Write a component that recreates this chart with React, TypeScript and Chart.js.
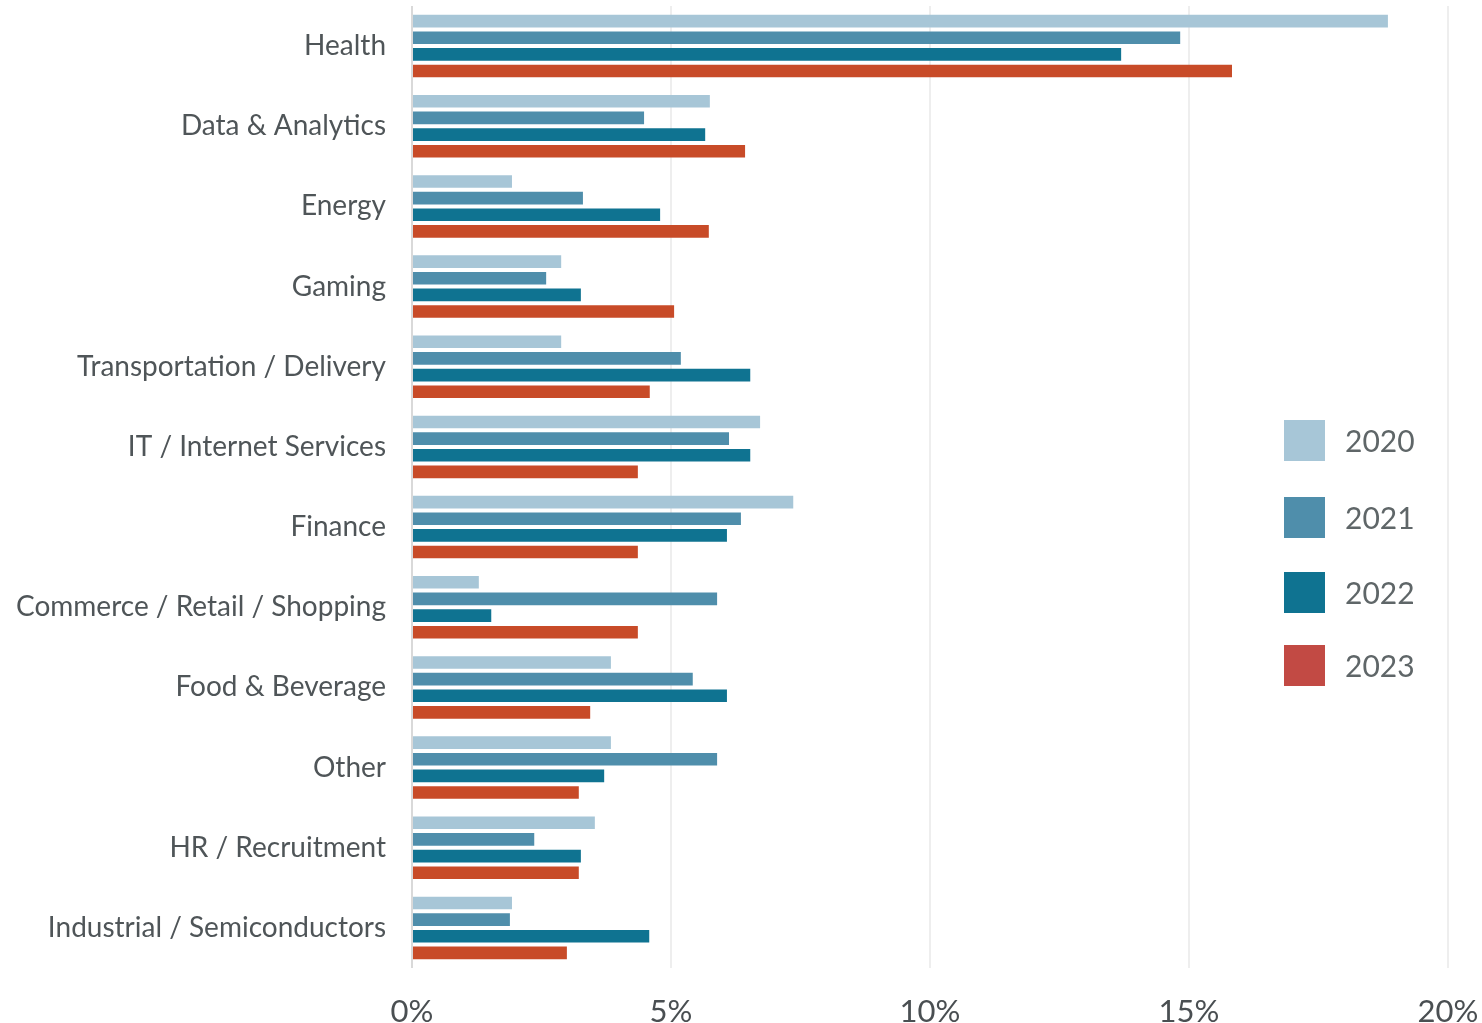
import React, { useEffect, useRef } from "react";
import { Chart, registerables } from "chart.js";

Chart.register(...registerables);

const categories = [
  "Health",
  "Data & Analytics",
  "Energy",
  "Gaming",
  "Transportation / Delivery",
  "IT / Internet Services",
  "Finance",
  "Commerce / Retail / Shopping",
  "Food & Beverage",
  "Other",
  "HR / Recruitment",
  "Industrial / Semiconductors",
];

const years = ["2020", "2021", "2022", "2023"];

const values2020 = [18.84, 5.75, 1.93, 2.88, 2.88, 6.72, 7.36, 1.29, 3.84, 3.84, 3.53, 1.93];
const values2021 = [14.83, 4.48, 3.3, 2.59, 5.19, 6.12, 6.35, 5.89, 5.42, 5.89, 2.36, 1.89];
const values2022 = [13.69, 5.66, 4.79, 3.26, 6.53, 6.53, 6.08, 1.53, 6.08, 3.71, 3.26, 4.58];
const values2023 = [15.83, 6.43, 5.73, 5.06, 4.59, 4.36, 4.36, 4.36, 3.44, 3.22, 3.22, 2.99];

const barColors = ["#a7c6d7", "#4f8eab", "#0f7391", "#c84b28"];
const legendColors = ["#a7c6d7", "#4f8eab", "#0f7391", "#c24a44"];

const xTicks = [0, 5, 10, 15, 20];

const FONT = "Lato, 'Noto Sans', sans-serif";

const legendPlugin = {
  id: "insideLegend",
  afterDraw(chart: any) {
    const { ctx, chartArea } = chart;
    const x = chartArea.right - 164;
    const tops = [414, 491, 566, 639];
    ctx.save();
    ctx.font = `30px ${FONT}`;
    ctx.textBaseline = "middle";
    ctx.textAlign = "left";
    years.forEach((y, i) => {
      const top = chartArea.top + tops[i];
      ctx.fillStyle = legendColors[i];
      ctx.fillRect(x, top, 41, 41);
      ctx.fillStyle = "#5f6668";
      ctx.fillText(y, x + 61, top + 22);
    });
    ctx.restore();
  },
};

export default function App() {
  const ref = useRef<HTMLCanvasElement | null>(null);

  useEffect(() => {
    document.body.style.margin = "0";
    const seriesValues = [values2020, values2021, values2022, values2023];
    const chart = new Chart(ref.current as HTMLCanvasElement, {
      type: "bar",
      data: {
        labels: categories,
        datasets: years.map((y, i) => ({
          label: y,
          data: seriesValues[i],
          backgroundColor: barColors[i],
          borderWidth: 0,
          categoryPercentage: 0.83,
          barPercentage: 0.76,
        })),
      },
      options: {
        indexAxis: "y",
        animation: false,
        responsive: true,
        maintainAspectRatio: false,
        layout: { padding: { top: 6, right: 34, left: 0, bottom: 0 } },
        plugins: {
          legend: { display: false },
          tooltip: { enabled: false },
        },
        scales: {
          x: {
            min: 0,
            max: 20,
            afterBuildTicks(axis: any) {
              axis.ticks = xTicks.map((v) => ({ value: v }));
            },
            afterFit(axis: any) {
              axis.height = 55;
              axis.paddingLeft = 0;
              axis.paddingRight = 0;
            },
            ticks: {
              callback: (v: any) => `${v}%`,
              font: { family: FONT, size: 31 },
              color: "#4a4f52",
              padding: 25,
              maxRotation: 0,
            },
            grid: {
              color: (c: any) => (c.tick && c.tick.value === 0 ? "#d9d9d9" : "#eeeeee"),
              lineWidth: 2,
              drawTicks: false,
            },
            border: { display: false },
          },
          y: {
            afterFit(axis: any) {
              axis.width = 412;
              axis.paddingTop = 0;
              axis.paddingBottom = 0;
            },
            ticks: {
              font: { family: FONT, size: 28 },
              color: "#4f5558",
              padding: 26,
            },
            grid: { display: false, drawTicks: false },
            border: { display: false },
          },
        },
      },
      plugins: [legendPlugin],
    });
    return () => chart.destroy();
  }, []);

  return (
    <div style={{ position: "fixed", left: 0, top: 0, width: "1482px", height: "1023px" }}>
      <canvas ref={ref} />
    </div>
  );
}
